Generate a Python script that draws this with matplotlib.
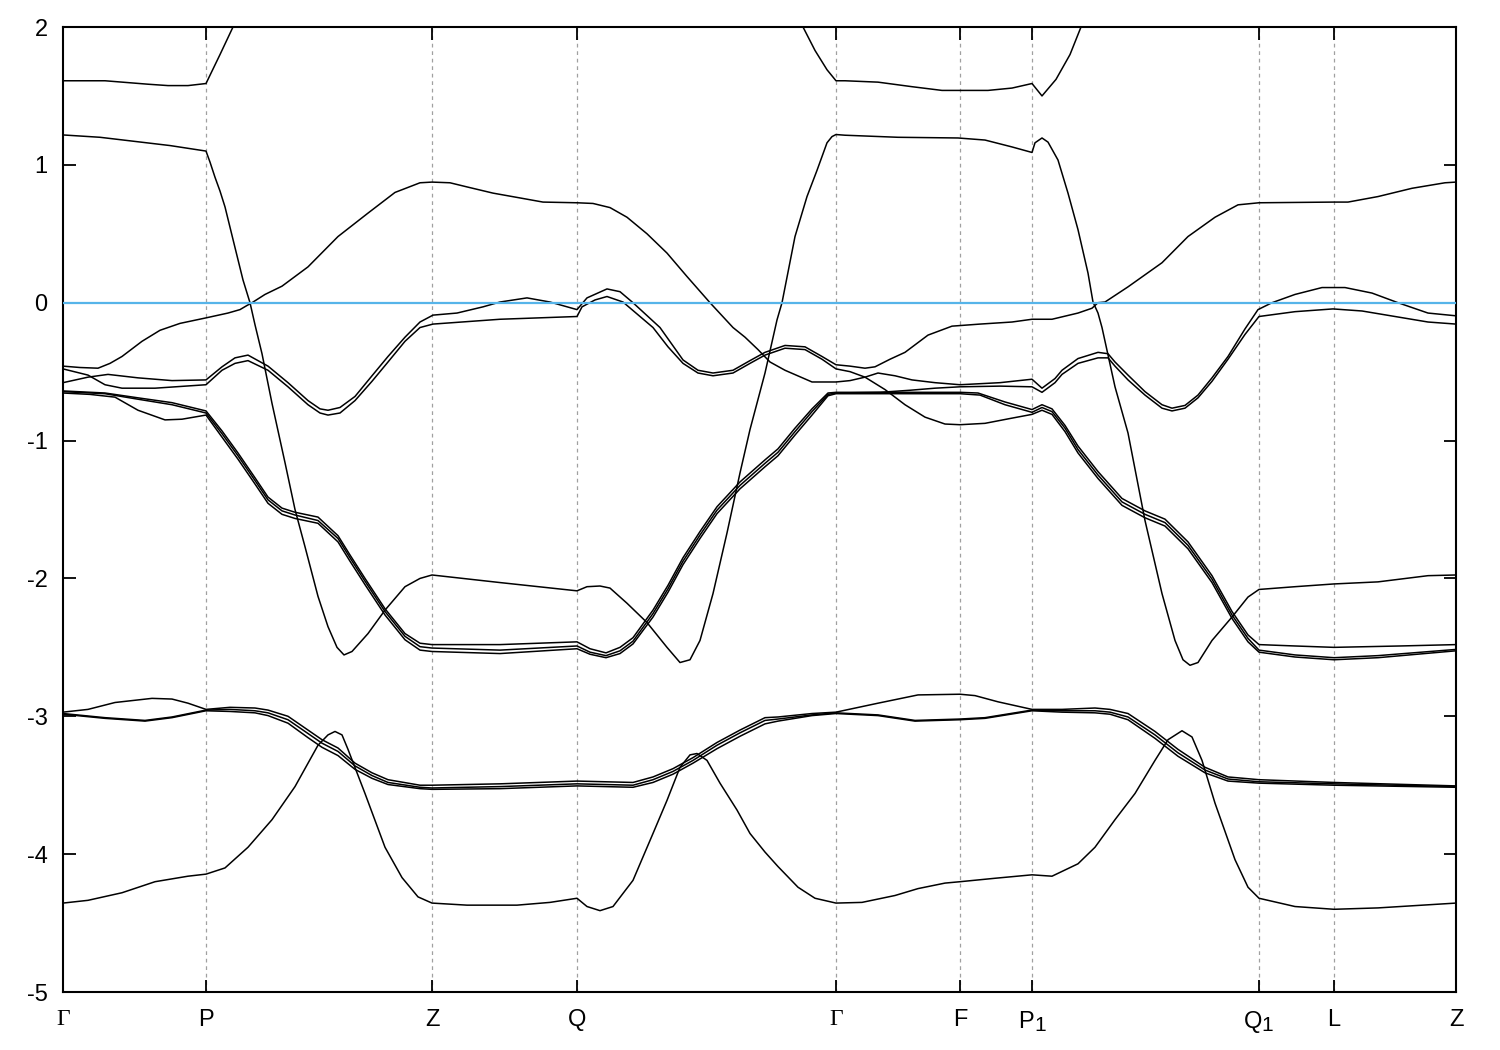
import numpy as np
import matplotlib
matplotlib.use("Agg")
import matplotlib.pyplot as plt
try:
    import matplotlib._mathtext as _mt
    _mt.SHRINK_FACTOR = 0.88
except Exception:
    pass

# ---- high-symmetry points along the k-path (path distance) ----
kpt_pos = [0, 143, 369, 514, 773, 897, 969, 1196, 1271, 1393]
kpt_lab = ['Γ', 'P', 'Z', 'Q', 'Γ', 'F', 'P$_1$', 'Q$_1$', 'L', 'Z']
yticks = [-5, -4, -3, -2, -1, 0, 1, 2]

# ---- bands (k, E) ----
u2_k = [0, 42, 85, 105, 125, 143, 157, 170, 187, 727, 740, 752, 764, 773, 782, 815, 849, 879, 897,
        925, 949, 969, 979, 993, 1007, 1018, 1032]
u2_e = [1.61, 1.61, 1.585, 1.575, 1.575, 1.59, 1.80, 2.0, 2.3, 2.3, 2.0, 1.83, 1.69, 1.61, 1.61, 1.60, 1.567, 1.54, 1.54,
        1.54, 1.557, 1.59, 1.50, 1.62, 1.80, 2.0, 2.3]

u1_k = [0, 37, 72, 107, 143, 147, 152, 157, 162, 172, 180, 187, 192, 199, 209, 222, 232, 242, 255, 265, 274, 281,
        289, 305, 322, 342, 357, 369, 437, 514, 524, 537, 547, 564, 584, 604, 617, 627, 637, 650, 664, 677, 687,
        702, 714, 719, 732, 744, 754, 764, 769, 773, 782, 835, 895, 922, 949, 969, 972, 979, 985, 995, 1005, 1015,
        1025, 1030, 1035, 1039, 1052, 1065, 1082, 1099, 1112, 1120, 1127, 1135, 1149, 1169, 1185, 1196, 1232,
        1271, 1315, 1365, 1393]
u1_e = [1.217, 1.20, 1.17, 1.14, 1.10, 1.02, 0.91, 0.81, 0.695, 0.40, 0.165, 0.0, -0.16, -0.37, -0.73, -1.16, -1.50,
        -1.77, -2.13, -2.35, -2.50, -2.555, -2.53, -2.40, -2.23, -2.06, -2.0, -1.975, -2.03, -2.09, -2.06, -2.055,
        -2.07, -2.18, -2.32, -2.50, -2.61, -2.59, -2.45, -2.11, -1.67, -1.235, -0.92, -0.51, -0.125, 0.0, 0.48,
        0.77, 0.96, 1.16, 1.205, 1.22, 1.215, 1.20, 1.195, 1.18, 1.13, 1.09, 1.16, 1.195, 1.165, 1.035, 0.795, 0.53,
        0.215, 0.005, -0.075, -0.18, -0.61, -0.945, -1.58, -2.11, -2.45, -2.59, -2.63, -2.61, -2.45, -2.28, -2.135,
        -2.08, -2.06, -2.04, -2.025, -1.98, -1.975]

a_k = [0, 17, 35, 47, 59, 79, 97, 117, 143, 165, 177, 184, 189, 202, 219, 245, 275, 305, 332, 357, 369, 387, 404,
       430, 457, 480, 514, 530, 547, 564, 584, 604, 624, 647, 670, 682, 695, 707, 722, 749, 773, 787, 802, 815,
       832, 849, 872, 897, 937, 969, 979, 992, 999, 1015, 1035, 1045, 1052, 1065, 1082, 1099, 1109, 1122, 1135,
       1149, 1165, 1182, 1195, 1209, 1232, 1259, 1282, 1309, 1335, 1365, 1393]
a_e = [-0.46, -0.47, -0.475, -0.44, -0.39, -0.28, -0.20, -0.15, -0.11, -0.075, -0.05, -0.02, 0.0, 0.06, 0.12, 0.26,
       0.48, 0.65, 0.80, 0.87, 0.875, 0.87, 0.84, 0.795, 0.76, 0.73, 0.725, 0.72, 0.69, 0.62, 0.50, 0.36, 0.19, 0.0,
       -0.18, -0.25, -0.34, -0.43, -0.49, -0.575, -0.575, -0.565, -0.54, -0.51, -0.53, -0.56, -0.58, -0.595, -0.58,
       -0.555, -0.62, -0.55, -0.49, -0.405, -0.36, -0.37, -0.43, -0.525, -0.645, -0.74, -0.765, -0.745, -0.67,
       -0.545, -0.39, -0.19, -0.05, 0.0, 0.06, 0.11, 0.11, 0.07, 0.0, -0.075, -0.095]

b_k = [0, 25, 42, 59, 92, 143, 159, 172, 185, 205, 225, 245, 257, 265, 277, 292, 309, 325, 342, 357, 370, 437,
       514, 519, 532, 544, 560, 590, 605, 620, 635, 650, 670, 687, 702, 722, 742, 759, 773, 787, 802, 822, 842,
       862, 882, 897, 922, 947, 969, 979, 989, 1002, 1015, 1035, 1059, 1082, 1102, 1125, 1149, 1169, 1185, 1196,
       1232, 1271, 1315, 1393]
b_e = [-0.48, -0.525, -0.595, -0.62, -0.62, -0.595, -0.49, -0.44, -0.42, -0.49, -0.61, -0.74, -0.80, -0.815, -0.80,
       -0.71, -0.57, -0.43, -0.28, -0.18, -0.155, -0.12, -0.10, -0.03, 0.02, 0.045, 0.005, -0.18, -0.32, -0.44,
       -0.51, -0.53, -0.51, -0.44, -0.38, -0.33, -0.34, -0.41, -0.48, -0.50, -0.54, -0.63, -0.74, -0.83, -0.88,
       -0.885, -0.875, -0.84, -0.81, -0.78, -0.81, -0.935, -1.09, -1.275, -1.47, -1.56, -1.62, -1.785, -2.03,
       -2.29, -2.46, -2.535, -2.57, -2.59, -2.575, -2.525]

c_k = [0, 25, 45, 75, 109, 143, 159, 172, 185, 205, 225, 245, 257, 265, 277, 292, 309, 325, 342, 357, 370, 394,
       420, 437, 464, 487, 514, 524, 544, 557, 570, 597, 620, 635, 650, 670, 687, 702, 722, 742, 759, 773, 787,
       802, 812, 827, 842, 865, 889, 917, 949, 969, 989, 1015, 1029, 1035, 1042, 1065, 1099, 1125, 1152, 1175,
       1196, 1271, 1285, 1315, 1349, 1382, 1393]
c_e = [-0.58, -0.54, -0.52, -0.545, -0.565, -0.56, -0.465, -0.40, -0.38, -0.46, -0.58, -0.71, -0.77, -0.78, -0.76,
       -0.68, -0.53, -0.39, -0.25, -0.14, -0.09, -0.075, -0.03, 0.005, 0.035, 0.005, -0.05, 0.035, 0.10, 0.08, 0.0,
       -0.18, -0.415, -0.49, -0.51, -0.49, -0.42, -0.36, -0.31, -0.32, -0.39, -0.45, -0.46, -0.475, -0.465, -0.41,
       -0.36, -0.235, -0.17, -0.155, -0.14, -0.12, -0.12, -0.075, -0.04, 0.0, 0.005, 0.115, 0.29, 0.48, 0.62, 0.71,
       0.725, 0.73, 0.73, 0.77, 0.83, 0.87, 0.875]

d_k = [0, 42, 75, 109, 143, 159, 175, 192, 205, 219, 232, 255, 275, 287, 302, 322, 342, 357, 369, 437, 514, 527,
       543, 557, 570, 590, 605, 620, 637, 654, 677, 702, 715, 732, 749, 765, 773, 837, 897, 915, 942, 969, 979,
       989, 1002, 1015, 1035, 1059, 1082, 1102, 1125, 1149, 1169, 1185, 1196, 1232, 1271, 1337, 1393]
d_e = [-0.64, -0.655, -0.69, -0.725, -0.785, -0.93, -1.09, -1.27, -1.41, -1.49, -1.52, -1.555, -1.69, -1.83, -2.0,
       -2.22, -2.40, -2.47, -2.48, -2.48, -2.46, -2.51, -2.54, -2.50, -2.43, -2.23, -2.05, -1.85, -1.66, -1.48,
       -1.30, -1.14, -1.06, -0.91, -0.77, -0.655, -0.65, -0.65, -0.65, -0.655, -0.72, -0.775, -0.74, -0.77, -0.89,
       -1.04, -1.225, -1.42, -1.51, -1.57, -1.735, -1.98, -2.24, -2.41, -2.48, -2.49, -2.50, -2.49, -2.48]

e_k = [0, 27, 52, 75, 102, 119, 143, 159, 175, 192, 205, 219, 232, 255, 275, 287, 302, 322, 342, 357, 369, 437,
       514, 527, 543, 557, 570, 590, 605, 620, 637, 654, 677, 702, 715, 732, 749, 765, 773, 837, 897, 917,
       942, 969, 979, 989, 1002, 1015, 1035, 1059, 1082, 1102, 1125, 1149, 1169, 1185, 1196, 1232, 1271, 1315,
       1393]
e_e = [-0.655, -0.665, -0.685, -0.78, -0.85, -0.845, -0.815, -0.975, -1.135, -1.315, -1.455, -1.535, -1.565, -1.60,
       -1.735, -1.875, -2.045, -2.265, -2.445, -2.52, -2.53, -2.545, -2.51, -2.55, -2.575, -2.545, -2.475, -2.28,
       -2.10, -1.90, -1.71, -1.53, -1.35, -1.19, -1.11, -0.96, -0.815, -0.675, -0.66, -0.66, -0.66, -0.67,
       -0.74, -0.795, -0.76, -0.79, -0.91, -1.065, -1.25, -1.445, -1.535, -1.595, -1.76, -2.005, -2.265, -2.435,
       -2.52, -2.555, -2.575, -2.56, -2.515]

f_k = [0, 42, 75, 109, 143, 159, 175, 192, 205, 219, 232, 255, 275, 287, 302, 322, 342, 357, 369, 437, 514, 527,
       543, 557, 570, 590, 605, 620, 637, 654, 677, 702, 715, 732, 749, 765, 773, 817, 847, 872, 897, 937, 969,
       979, 992, 999, 1015, 1035, 1045, 1052, 1065, 1082, 1099, 1109, 1122, 1135, 1149, 1165, 1182, 1196, 1232,
       1270, 1299, 1332, 1365, 1393]
f_e = [-0.645, -0.66, -0.70, -0.74, -0.80, -0.95, -1.11, -1.29, -1.43, -1.51, -1.54, -1.58, -1.71, -1.85, -2.02,
       -2.24, -2.42, -2.495, -2.505, -2.52, -2.49, -2.535, -2.56, -2.525, -2.455, -2.255, -2.075, -1.875, -1.685,
       -1.505, -1.325, -1.165, -1.085, -0.935, -0.79, -0.665, -0.655, -0.65, -0.635, -0.62, -0.61, -0.605, -0.61,
       -0.65, -0.58, -0.52, -0.44, -0.40, -0.40, -0.46, -0.56, -0.67, -0.765, -0.785, -0.765, -0.69, -0.57, -0.41,
       -0.23, -0.10, -0.065, -0.045, -0.06, -0.10, -0.14, -0.155]

l1_k = [0, 25, 52, 89, 109, 125, 143, 167, 192, 205, 225, 245, 259, 275, 292, 309, 325, 357, 369, 437, 514, 570,
        590, 610, 630, 654, 677, 702, 715, 749, 773, 815, 855, 897, 912, 935, 969, 999, 1032, 1047, 1065, 1092,
        1115, 1142, 1165, 1196, 1271, 1393]
l1_e = [-2.97, -2.95, -2.90, -2.87, -2.875, -2.905, -2.95, -2.935, -2.94, -2.955, -3.0, -3.10, -3.17, -3.23, -3.34,
        -3.41, -3.46, -3.50, -3.50, -3.49, -3.47, -3.48, -3.44, -3.38, -3.30, -3.19, -3.10, -3.01, -3.005, -2.98,
        -2.97, -2.905, -2.845, -2.84, -2.85, -2.895, -2.95, -2.95, -2.94, -2.95, -2.98, -3.11, -3.24, -3.37, -3.44,
        -3.46, -3.48, -3.505]

l2_k = [0, 42, 82, 109, 143, 167, 192, 205, 225, 245, 259, 275, 292, 309, 325, 357, 369, 437, 514, 570, 590, 610,
        630, 654, 677, 702, 715, 749, 773, 815, 852, 897, 922, 969, 999, 1032, 1047, 1065, 1092, 1115, 1142, 1165,
        1196, 1271, 1393]
l2_e = [-2.98, -3.01, -3.03, -3.005, -2.955, -2.95, -2.96, -2.975, -3.025, -3.125, -3.195, -3.255, -3.36, -3.43,
        -3.48, -3.515, -3.52, -3.51, -3.49, -3.50, -3.46, -3.40, -3.32, -3.21, -3.12, -3.03, -3.02, -2.99,
        -2.975, -2.99, -3.03, -3.02, -3.01, -2.955, -2.96, -2.96, -2.97, -3.005, -3.135, -3.265, -3.39, -3.455,
        -3.475, -3.49, -3.51]

l3_k = [0, 42, 82, 109, 143, 167, 192, 205, 225, 245, 259, 275, 292, 309, 325, 357, 369, 437, 514, 570, 590, 610,
        630, 654, 677, 702, 715, 749, 773, 815, 852, 897, 922, 969, 999, 1032, 1047, 1065, 1092, 1115, 1142, 1165,
        1196, 1271, 1393]
l3_e = [-2.985, -3.015, -3.035, -3.01, -2.96, -2.965, -2.975, -2.995, -3.05, -3.155, -3.225, -3.285, -3.385, -3.45,
        -3.495, -3.525, -3.53, -3.525, -3.505, -3.515, -3.48, -3.42, -3.34, -3.235, -3.145, -3.055, -3.035, -2.995,
        -2.98, -2.995, -3.035, -3.025, -3.015, -2.96, -2.97, -2.975, -2.985, -3.025, -3.16, -3.29, -3.41, -3.47,
        -3.485, -3.50, -3.515]

l4_k = [0, 25, 59, 92, 125, 143, 162, 185, 209, 232, 255, 265, 272, 279, 285, 302, 322, 339, 355, 369, 404, 454,
        487, 514, 524, 537, 550, 570, 590, 604, 617, 627, 634, 644, 657, 674, 687, 702, 715, 735, 752, 773, 799,
        832, 855, 882, 897, 932, 969, 989, 1015, 1032, 1052, 1072, 1092, 1105, 1119, 1129, 1139, 1152, 1172, 1185,
        1196, 1232, 1271, 1315, 1393]
l4_e = [-4.355, -4.335, -4.28, -4.20, -4.16, -4.145, -4.10, -3.95, -3.75, -3.51, -3.21, -3.135, -3.11, -3.135,
        -3.24, -3.56, -3.95, -4.17, -4.31, -4.355, -4.37, -4.37, -4.35, -4.32, -4.38, -4.41, -4.38, -4.19, -3.85,
        -3.61, -3.37, -3.28, -3.27, -3.32, -3.485, -3.68, -3.85, -3.985, -4.09, -4.24, -4.32, -4.355, -4.35, -4.30,
        -4.25, -4.21, -4.20, -4.175, -4.15, -4.16, -4.07, -3.95, -3.75, -3.56, -3.32, -3.17, -3.105, -3.15, -3.32,
        -3.63, -4.04, -4.24, -4.32, -4.38, -4.40, -4.39, -4.355]

bands = [(u2_k, u2_e), (u1_k, u1_e), (a_k, a_e), (b_k, b_e), (c_k, c_e), (d_k, d_e), (e_k, e_e), (f_k, f_e),
         (l1_k, l1_e), (l2_k, l2_e), (l3_k, l3_e), (l4_k, l4_e)]

# ---- styling ----
plt.rcParams['font.family'] = ['Liberation Sans', 'DejaVu Sans']
plt.rcParams['mathtext.fontset'] = 'custom'
plt.rcParams['mathtext.rm'] = 'Liberation Sans'
plt.rcParams['mathtext.it'] = 'Liberation Sans:italic'
plt.rcParams['axes.unicode_minus'] = False

fig = plt.figure(figsize=(15, 10.5), dpi=100)
ax = fig.add_axes([63 / 1500, 1 - 992 / 1050, (1456 - 63) / 1500, (992 - 27) / 1050])

for kp in kpt_pos[1:-1]:
    ax.axvline(kp, color='#a0a0a0', lw=0.9, dashes=(3, 3), zorder=1)

for k, e in bands:
    ax.plot(k, e, color='black', lw=1.1, zorder=2, solid_joinstyle='round')

ax.axhline(0, color='#56b4e9', lw=1.6, zorder=3)

ax.set_xlim(kpt_pos[0], kpt_pos[-1])
ax.set_ylim(-5, 2)
ax.set_xticks(kpt_pos)
ax.set_xticklabels(kpt_lab)
ax.set_yticks(yticks)
ax.set_yticklabels([str(v) for v in yticks])
ax.tick_params(direction='in', top=True, right=True, length=9, width=1.3, labelsize=17, pad=11)
ax.tick_params(axis='x', pad=12)
for lbl in ax.get_xticklabels():
    if lbl.get_text() == 'Γ':
        lbl.set_family('Liberation Serif')
for s in ax.spines.values():
    s.set_linewidth(1.5)

fig.savefig('out.png', dpi=100)
